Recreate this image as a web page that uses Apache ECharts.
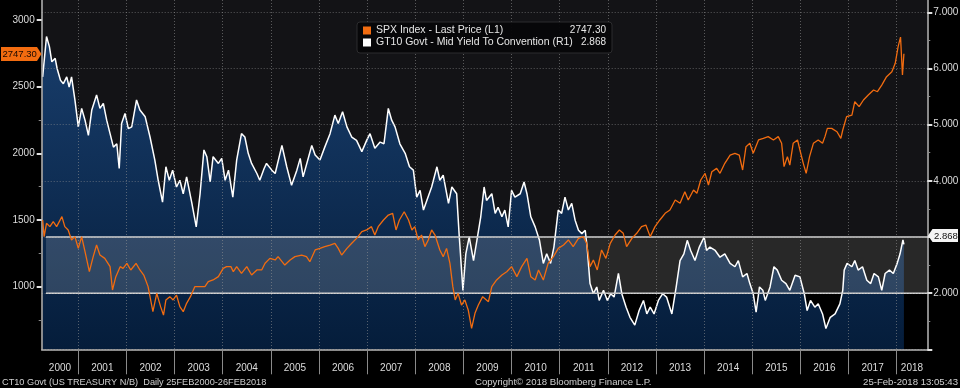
<!DOCTYPE html>
<html><head><meta charset="utf-8">
<script src="https://cdn.jsdelivr.net/npm/echarts@6/dist/echarts.min.js"></script>
<style>html,body{margin:0;padding:0;background:#000;}#c{width:960px;height:388px;}</style>
</head><body><div id="c"></div>
<script>
// ---- data (decimal year, value) ----
const spx = [[2000.26,1500],[2000.29,1375],[2000.34,1475],[2000.41,1450],[2000.48,1487],[2000.55,1450],[2000.66,1525],[2000.72,1450],[2000.79,1425],[2000.86,1350],[2000.93,1375],[2001.00,1287],[2001.07,1375],[2001.14,1262],[2001.23,1112],[2001.31,1225],[2001.38,1312],[2001.45,1237],[2001.55,1212],[2001.66,1150],[2001.71,975],[2001.78,1075],[2001.87,1150],[2001.93,1137],[2002.01,1175],[2002.09,1125],[2002.20,1175],[2002.28,1125],[2002.36,1087],[2002.45,1000],[2002.55,812],[2002.63,950],[2002.71,850],[2002.77,787],[2002.82,900],[2002.90,925],[2002.97,900],[2003.04,937],[2003.11,850],[2003.18,812],[2003.25,875],[2003.33,925],[2003.42,1000],[2003.53,1000],[2003.63,1000],[2003.70,1037],[2003.80,1050],[2003.91,1075],[2004.01,1137],[2004.08,1150],[2004.17,1150],[2004.22,1112],[2004.29,1150],[2004.39,1100],[2004.50,1150],[2004.60,1087],[2004.71,1125],[2004.81,1125],[2004.88,1175],[2004.98,1212],[2005.09,1200],[2005.15,1225],[2005.29,1162],[2005.40,1200],[2005.50,1225],[2005.64,1237],[2005.74,1225],[2005.81,1187],[2005.92,1275],[2006.02,1287],[2006.12,1300],[2006.23,1312],[2006.33,1325],[2006.40,1287],[2006.47,1237],[2006.58,1287],[2006.68,1325],[2006.78,1362],[2006.89,1412],[2006.99,1425],[2007.09,1450],[2007.16,1387],[2007.23,1450],[2007.34,1500],[2007.44,1537],[2007.53,1550],[2007.60,1425],[2007.67,1500],[2007.77,1562],[2007.86,1500],[2007.93,1425],[2007.99,1450],[2008.06,1350],[2008.13,1387],[2008.20,1300],[2008.27,1350],[2008.34,1425],[2008.41,1387],[2008.51,1275],[2008.58,1225],[2008.65,1287],[2008.72,1175],[2008.78,1000],[2008.83,900],[2008.89,950],[2008.96,862],[2009.03,900],[2009.10,825],[2009.17,687],[2009.24,800],[2009.31,862],[2009.40,925],[2009.52,887],[2009.59,1000],[2009.69,1050],[2009.80,1087],[2009.90,1112],[2010.00,1150],[2010.11,1075],[2010.21,1150],[2010.32,1212],[2010.40,1075],[2010.49,1050],[2010.56,1125],[2010.66,1050],[2010.76,1175],[2010.87,1225],[2010.97,1287],[2011.08,1312],[2011.18,1350],[2011.28,1300],[2011.39,1362],[2011.49,1375],[2011.56,1325],[2011.63,1150],[2011.70,1200],[2011.78,1125],[2011.87,1275],[2011.96,1212],[2012.05,1325],[2012.15,1387],[2012.24,1425],[2012.32,1400],[2012.39,1300],[2012.50,1362],[2012.60,1400],[2012.70,1450],[2012.79,1462],[2012.88,1375],[2012.98,1450],[2013.08,1500],[2013.19,1550],[2013.29,1575],[2013.40,1650],[2013.50,1625],[2013.60,1712],[2013.67,1650],[2013.78,1725],[2013.85,1700],[2013.93,1800],[2014.02,1850],[2014.09,1762],[2014.16,1862],[2014.26,1887],[2014.33,1850],[2014.43,1925],[2014.54,1987],[2014.64,2000],[2014.73,1987],[2014.80,1875],[2014.87,2050],[2014.95,2075],[2015.02,2000],[2015.13,2100],[2015.23,2112],[2015.33,2125],[2015.44,2100],[2015.54,2125],[2015.61,2075],[2015.66,1900],[2015.73,1975],[2015.78,1912],[2015.85,2075],[2015.94,2100],[2015.99,2025],[2016.06,1925],[2016.12,1850],[2016.19,1975],[2016.27,2075],[2016.37,2100],[2016.46,2075],[2016.51,2125],[2016.56,2187],[2016.65,2187],[2016.76,2162],[2016.84,2112],[2016.88,2175],[2016.96,2275],[2017.07,2287],[2017.13,2387],[2017.22,2350],[2017.31,2400],[2017.41,2437],[2017.52,2475],[2017.60,2462],[2017.69,2512],[2017.79,2575],[2017.90,2612],[2017.97,2675],[2018.03,2800],[2018.08,2872],[2018.12,2587],[2018.15,2747.3]];

const yld = [[2000.26,5.85],[2000.34,6.57],[2000.40,6.39],[2000.45,6.12],[2000.52,6.18],[2000.56,6.00],[2000.63,5.79],[2000.69,5.73],[2000.76,5.85],[2000.81,5.67],[2000.86,5.85],[2000.93,5.44],[2001.00,4.96],[2001.07,5.29],[2001.14,5.08],[2001.21,4.81],[2001.28,5.26],[2001.38,5.53],[2001.45,5.29],[2001.52,5.38],[2001.59,5.08],[2001.66,4.84],[2001.73,4.60],[2001.80,4.66],[2001.85,4.22],[2001.90,5.02],[2001.97,5.20],[2002.04,4.93],[2002.11,4.96],[2002.21,5.44],[2002.28,5.26],[2002.39,5.14],[2002.49,4.78],[2002.59,4.37],[2002.66,4.01],[2002.75,3.62],[2002.82,4.25],[2002.89,4.01],[2002.96,4.19],[2003.04,3.89],[2003.11,4.01],[2003.18,3.77],[2003.25,4.07],[2003.36,3.60],[2003.45,3.18],[2003.53,3.77],[2003.61,4.55],[2003.67,4.43],[2003.74,3.98],[2003.80,4.43],[2003.91,4.31],[2003.98,4.40],[2004.05,4.01],[2004.12,4.19],[2004.21,3.71],[2004.29,4.37],[2004.39,4.84],[2004.46,4.78],[2004.53,4.49],[2004.60,4.31],[2004.71,4.13],[2004.77,4.01],[2004.86,4.22],[2004.91,4.31],[2005.02,4.19],[2005.09,4.13],[2005.23,4.63],[2005.33,4.25],[2005.43,3.92],[2005.54,4.19],[2005.61,4.40],[2005.67,4.07],[2005.85,4.63],[2005.92,4.46],[2006.02,4.37],[2006.12,4.60],[2006.23,4.84],[2006.33,5.17],[2006.40,5.02],[2006.49,5.23],[2006.58,4.96],[2006.68,4.78],[2006.78,4.72],[2006.89,4.52],[2006.99,4.72],[2007.06,4.84],[2007.16,4.58],[2007.27,4.69],[2007.35,4.66],[2007.44,5.29],[2007.51,5.08],[2007.58,4.96],[2007.68,4.66],[2007.79,4.49],[2007.88,4.25],[2007.96,4.19],[2008.03,3.71],[2008.10,3.83],[2008.17,3.48],[2008.24,3.65],[2008.34,3.89],[2008.45,4.25],[2008.51,4.01],[2008.58,4.10],[2008.69,3.60],[2008.76,3.89],[2008.86,3.77],[2008.91,3.06],[2008.99,2.05],[2009.05,2.70],[2009.12,3.00],[2009.21,2.58],[2009.28,2.94],[2009.36,3.36],[2009.43,3.89],[2009.48,3.65],[2009.59,3.77],[2009.66,3.42],[2009.72,3.53],[2009.80,3.36],[2009.86,3.48],[2009.93,3.18],[2010.00,3.83],[2010.07,3.71],[2010.18,3.77],[2010.26,3.98],[2010.32,3.77],[2010.40,3.36],[2010.49,3.18],[2010.58,2.94],[2010.66,2.53],[2010.73,2.70],[2010.81,2.53],[2010.88,2.82],[2010.97,3.48],[2011.04,3.42],[2011.11,3.71],[2011.18,3.48],[2011.25,3.60],[2011.32,3.30],[2011.39,3.12],[2011.46,3.06],[2011.53,3.12],[2011.57,2.82],[2011.63,2.17],[2011.70,1.99],[2011.77,2.11],[2011.82,1.87],[2011.91,2.05],[2011.99,1.87],[2012.06,1.99],[2012.13,1.93],[2012.22,2.35],[2012.29,1.99],[2012.38,1.75],[2012.46,1.57],[2012.56,1.43],[2012.65,1.69],[2012.74,1.87],[2012.81,1.63],[2012.88,1.75],[2012.96,1.63],[2013.05,1.87],[2013.14,1.99],[2013.22,1.93],[2013.33,1.63],[2013.42,2.11],[2013.50,2.58],[2013.58,2.70],[2013.65,2.94],[2013.72,2.76],[2013.81,2.58],[2013.90,2.82],[2014.00,3.00],[2014.05,2.76],[2014.12,2.82],[2014.23,2.76],[2014.33,2.64],[2014.43,2.70],[2014.54,2.53],[2014.64,2.47],[2014.71,2.58],[2014.80,2.29],[2014.89,2.35],[2014.95,2.17],[2015.02,1.99],[2015.08,1.66],[2015.15,2.11],[2015.22,2.05],[2015.27,1.87],[2015.37,2.11],[2015.45,2.47],[2015.52,2.41],[2015.61,2.23],[2015.70,2.17],[2015.78,2.05],[2015.89,2.32],[2015.99,2.29],[2016.08,1.99],[2016.14,1.69],[2016.21,1.87],[2016.30,1.75],[2016.37,1.81],[2016.46,1.63],[2016.53,1.37],[2016.62,1.57],[2016.72,1.63],[2016.82,1.81],[2016.88,2.05],[2016.91,2.41],[2016.97,2.53],[2017.07,2.47],[2017.13,2.58],[2017.20,2.41],[2017.29,2.47],[2017.38,2.23],[2017.46,2.17],[2017.53,2.35],[2017.62,2.29],[2017.69,2.05],[2017.76,2.35],[2017.85,2.41],[2017.93,2.35],[2018.01,2.53],[2018.07,2.70],[2018.13,2.95],[2018.15,2.868]];

const yearTicks = [2001,2002,2003,2004,2005,2006,2007,2008,2009,2010,2011,2012,2013,2014,2015,2016,2017,2018];
const yearLabels = ['2000','2001','2002','2003','2004','2005','2006','2007','2008','2009','2010','2011','2012','2013','2014','2015','2016','2017','2018'];
const leftTicks = [1000,1500,2000,2500,3000];
const leftMinor = [750,1250,1750,2250,2750];
const rightTicks = [1,2,3,4,5,6,7];
const rightLabels = [2,3,4,5,6,7];
const rightMinor = [1.5,2.5,3.5,4.5,5.5,6.5];
const band = [2,3];
const bandStart = 2000.33;
const names = ['SPX Index - Last Price (L1)','GT10 Govt - Mid Yield To Convention (R1)'];
const lastValues = ['2747.30','2.868'];

const X_MIN = 2000.24, X_MAX = 2018.636;
const L_MIN = 530, L_MAX = 3150, R_MIN = 1, R_MAX = 7.22;

const FONT = '"Liberation Sans", Arial, sans-serif';
const AX = 10;
const bounds = [X_MIN].concat(yearTicks, [X_MAX]);
const labelPos = bounds.slice(1).map((b, i) => (bounds[i] + b) / 2);

const chart = echarts.init(document.getElementById('c'), null, {renderer: 'canvas'});
const option = {
  backgroundColor: '#000',
  animation: false,
  textStyle: {fontFamily: FONT},
  grid: {left: 41.7, right: 32.7, top: 0, bottom: 38.7, show: true, backgroundColor: '#000', borderWidth: 0, outerBoundsMode: 'none'},
  legend: {
    orient: 'vertical', left: 357, top: 22, padding: [3, 6, 5, 6],
    backgroundColor: 'rgba(6,6,8,0.95)', borderColor: '#2c2c2e', borderWidth: 1, borderRadius: 3,
    itemWidth: 8, itemHeight: 8, itemGap: 1, icon: 'rect', selectedMode: false,
    data: [{name: names[0], itemStyle: {color: '#f26c10'}}, {name: names[1], itemStyle: {color: '#ffffff'}}],
    formatter: n => '{n|' + n + '}{v|' + lastValues[names.indexOf(n)] + '}',
    textStyle: {color: '#e6e6e6', fontSize: 10.5, fontFamily: FONT, lineHeight: 10,
      rich: {n: {width: 188, fontSize: 10.5, color: '#e6e6e6', fontFamily: FONT, lineHeight: 10},
             v: {width: 42, align: 'right', fontSize: 10, color: '#e6e6e6', fontFamily: FONT, lineHeight: 10}}}
  },
  xAxis: {
    type: 'value', min: X_MIN, max: X_MAX, z: 3.5,
    axisLine: {show: true, onZero: false, lineStyle: {color: '#b8b8b8', width: 1.5}},
    axisTick: {show: true, customValues: yearTicks, length: 25, lineStyle: {color: '#8a8a8a', width: 1}},
    axisLabel: {customValues: labelPos, formatter: v => yearLabels[Math.floor(v) - 2000], color: '#dcdcdc', fontSize: AX, margin: 14, fontFamily: FONT},
    splitLine: {show: true, lineStyle: {color: 'rgba(150,150,150,0.55)', type: [1, 2], width: 1}}
  },
  yAxis: [
    {type: 'value', position: 'left', min: L_MIN, max: L_MAX, z: 3.5,
     axisLine: {show: true, lineStyle: {color: '#b8b8b8', width: 1.5}},
     axisTick: {show: true, customValues: leftTicks, length: 5, lineStyle: {color: '#e0e0e0', width: 2}},
     axisLabel: {customValues: leftTicks, formatter: v => String(v), color: '#dcdcdc', fontSize: AX, margin: 7, fontFamily: FONT},
     splitLine: {show: false}},
    {type: 'value', position: 'right', min: R_MIN, max: R_MAX, z: 3.5,
     axisLine: {show: true, lineStyle: {color: '#b8b8b8', width: 1.5}},
     axisTick: {show: true, customValues: rightTicks, length: 5, lineStyle: {color: '#e0e0e0', width: 2}},
     axisLabel: {customValues: rightLabels, formatter: v => v.toFixed(3), color: '#dcdcdc', fontSize: AX, margin: 6, fontFamily: FONT},
     splitLine: {show: true, lineStyle: {color: 'rgba(150,150,150,0.55)', type: [1, 2], width: 1}}},
    {type: 'value', position: 'left', min: L_MIN, max: L_MAX, z: 3.5,
     axisLine: {show: false}, axisLabel: {show: false}, splitLine: {show: false},
     axisTick: {show: true, customValues: leftMinor, length: 3, lineStyle: {color: '#8a8a8a', width: 1}}},
    {type: 'value', position: 'right', min: R_MIN, max: R_MAX, z: 3.5,
     axisLine: {show: false}, axisLabel: {show: false}, splitLine: {show: false},
     axisTick: {show: true, customValues: rightMinor, length: 3, lineStyle: {color: '#8a8a8a', width: 1}}}
  ],
  series: [
    {name: 'topRegion', type: 'line', yAxisIndex: 1, z: 1, silent: true, showSymbol: false,
     data: [[X_MIN, R_MAX], [X_MAX, R_MAX]], lineStyle: {width: 0},
     areaStyle: {origin: band[1], color: '#131316', opacity: 1}},
    {name: names[1], type: 'line', yAxisIndex: 1, z: 2, showSymbol: false, data: yld,
     lineStyle: {color: '#ffffff', width: 1.5}, itemStyle: {color: '#ffffff'},
     areaStyle: {origin: 'start', opacity: 1, color: new echarts.graphic.LinearGradient(0, 0, 0, 1, [{offset: 0, color: '#183d6b'}, {offset: 1, color: '#051d3b'}])}},
    {name: 'bandFill', type: 'line', yAxisIndex: 1, z: 3, silent: true, showSymbol: false,
     data: [[bandStart, band[1]], [X_MAX, band[1]]], lineStyle: {color: '#d4d4d4', width: 1.5},
     areaStyle: {origin: band[0], color: 'rgba(255,255,255,0.155)', opacity: 1}},
    {name: 'bandLow', type: 'line', yAxisIndex: 1, z: 3, silent: true, showSymbol: false,
     data: [[bandStart, band[0]], [X_MAX, band[0]]], lineStyle: {color: '#d4d4d4', width: 1.5}},
    {name: names[0], type: 'line', yAxisIndex: 0, z: 4, showSymbol: false, data: spx,
     lineStyle: {color: '#f26c10', width: 1.3}, itemStyle: {color: '#f26c10'}}
  ],
  graphic: [
    {type: 'polygon', z: 100, shape: {points: [[1, 47], [37, 47], [41.5, 54], [37, 61], [1, 61]]}, style: {fill: '#f26c10'}},
    {type: 'text', z: 101, x: 2.5, y: 54.5, style: {text: lastValues[0], fill: '#1a0800', fontSize: 9.5, fontFamily: FONT, verticalAlign: 'middle'}},
    {type: 'polygon', z: 100, shape: {points: [[928, 235.5], [932.5, 229], [958, 229], [958, 242], [932.5, 242]]}, style: {fill: '#f4f4f4'}},
    {type: 'text', z: 101, x: 934, y: 236, style: {text: lastValues[1], fill: '#111', fontSize: 9.5, fontFamily: FONT, verticalAlign: 'middle'}},
    {type: 'text', z: 101, x: 2, y: 382, style: {text: 'CT10 Govt (US TREASURY N/B)  Daily 25FEB2000-26FEB2018', fill: '#d0d0d0', fontSize: 9.2, fontFamily: FONT, verticalAlign: 'middle'}},
    {type: 'text', z: 101, x: 475, y: 382, style: {text: 'Copyright\u00a9 2018 Bloomberg Finance L.P.', fill: '#d0d0d0', fontSize: 9.6, fontFamily: FONT, verticalAlign: 'middle'}},
    {type: 'text', z: 101, x: 958, y: 382, style: {text: '25-Feb-2018 13:05:43', fill: '#d0d0d0', fontSize: 9.6, fontFamily: FONT, verticalAlign: 'middle', align: 'right'}}
  ]
};
chart.setOption(option);
</script>
</body></html>
